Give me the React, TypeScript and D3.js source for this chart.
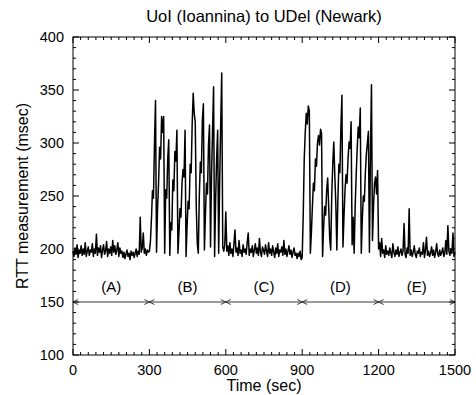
import React from "react";
import * as d3 from "d3";

// RTT samples every 4 seconds, one array per phase
const phaseStarts = [0, 300, 600, 900, 1200];
const phaseA = [
  198, 193, 201, 195, 204, 192, 199, 196, 203, 194,
  200, 195, 206, 193, 198, 202, 194, 199, 197, 205,
  193, 200, 196, 214, 194, 201, 197, 203, 192, 199,
  204, 195, 198, 207, 193, 200, 196, 202, 194, 208,
  197, 203, 195, 199, 206, 193, 201, 196, 198, 192,
  197, 191, 195, 199, 193, 196, 190, 198, 194, 197,
  192, 196, 200, 193, 198, 195, 230, 197, 201, 215,
  196, 200, 194, 199, 197,
];
const phaseB = [
  198, 207, 228, 255, 248, 300, 340, 197,
  238, 262, 296, 285, 325, 310, 325, 196,
  256, 248, 285, 303, 194,
  225, 218, 265, 255, 292, 283, 312, 196,
  215, 238, 230, 262, 275, 268, 312, 193,
  222, 245, 238, 280, 272, 318, 347, 328, 320, 240, 205, 196,
  250, 282, 272, 322, 337, 199,
  232, 262, 252, 298, 317, 202,
  270, 312, 353, 193,
  245, 285, 312, 196,
  265, 318, 366, 202, 198, 204,
];
const phaseC = [
  235, 198, 203, 194, 206, 196, 200, 193, 205, 218,
  197, 201, 194, 208, 196, 199, 193, 204, 197, 200,
  195, 206, 215, 194, 200, 197, 203, 193, 199, 205,
  196, 201, 194, 210, 197, 193, 202, 199, 195, 204,
  198, 193, 206, 196, 200, 194, 203, 197, 192, 201,
  196, 205, 193, 199, 197, 202, 194, 208, 195, 200,
  193, 198, 203, 195, 199, 192, 197, 201, 194, 196,
  191, 196, 193, 198, 190,
];
const phaseD = [
  192, 232, 285, 310, 328, 318, 335, 330, 196,
  215, 240, 262, 255, 285, 278, 300, 307, 298, 313, 309, 193,
  220, 240, 232, 255, 267, 240, 210, 199,
  250, 280, 301, 270, 243, 199,
  245, 280, 272, 315, 345, 202,
  230, 255, 270, 262, 285, 301, 295, 320, 204,
  230, 196, 240, 270, 295, 315, 305, 333, 196,
  228, 250, 245, 272, 290, 300, 311, 197,
  290, 355, 208,
  240, 262, 268, 252, 274,
];
const phaseE = [
  200, 206, 193, 210, 196, 199, 192, 203, 195, 198,
  194, 201, 196, 192, 205, 197, 193, 199, 195, 202,
  193, 197, 200, 194, 198, 224, 195, 192, 201, 196,
  238, 194, 199, 193, 197, 203, 195, 192, 198, 196,
  201, 193, 197, 195, 206, 192, 199, 211, 194, 198,
  193, 196, 202, 194, 199, 192, 197, 205, 195, 193,
  199, 194, 197, 201, 193, 196, 208, 195, 222, 198,
  194, 200, 196, 215, 193, 197,
];
const phaseLabels = ["(A)", "(B)", "(C)", "(D)", "(E)"];
const xTicks = [0, 300, 600, 900, 1200, 1500];
const yTicks = [100, 150, 200, 250, 300, 350, 400];
const markerLevel = 150;

const W = 476;
const H = 395;
const left = 73;
const right = 455;
const top = 37;
const bottom = 355;
const FONT = "Liberation Sans, Arial, Helvetica, sans-serif";

export default function App() {
  const x = d3.scaleLinear().domain([0, 1500]).range([left, right]);
  const y = d3.scaleLinear().domain([100, 400]).range([bottom, top]);

  const phases = [phaseA, phaseB, phaseC, phaseD, phaseE];
  const pts: [number, number][] = [];
  phases.forEach((arr, k) => {
    arr.forEach((v, i) => pts.push([phaseStarts[k] + i * 4, v]));
  });
  const line = d3
    .line<[number, number]>()
    .x((d) => x(d[0]))
    .y((d) => y(d[1]));

  const xMinor = d3.range(0, 1501, 30);
  const yMinor = d3.range(100, 401, 10);
  const majL = 6;
  const minL = 3;

  const ticks: JSX.Element[] = [];
  xMinor.forEach((t) => {
    const L = t % 300 === 0 ? majL : minL;
    const px = x(t);
    ticks.push(<line key={"xb" + t} x1={px} x2={px} y1={bottom} y2={bottom - L} />);
    ticks.push(<line key={"xt" + t} x1={px} x2={px} y1={top} y2={top + L} />);
  });
  yMinor.forEach((v) => {
    const L = v % 50 === 0 ? majL : minL;
    const py = y(v);
    ticks.push(<line key={"yl" + v} x1={left} x2={left + L} y1={py} y2={py} />);
    ticks.push(<line key={"yr" + v} x1={right} x2={right - L} y1={py} y2={py} />);
  });

  const ym = y(markerLevel);
  const ah = 5;
  const aw = 2.5;

  return (
    <svg
      width={W}
      height={H}
      style={{ position: "absolute", left: 0, top: 0, background: "#fff" }}
      fontFamily={FONT}
    >
      <rect x={0} y={0} width={W} height={H} fill="#fff" />
      <text x={(left + right) / 2} y={22} textAnchor="middle" fontSize={16.5}>
        UoI (Ioannina) to UDel (Newark)
      </text>
      <path d={line(pts) || ""} fill="none" stroke="#000" strokeWidth={1.5} strokeLinejoin="round" />
      {phaseStarts.map((s, k) => {
        const x0 = x(s);
        const x1 = x(s + 300);
        return (
          <g key={"ph" + k} stroke="#222" strokeWidth={0.9} fill="none">
            <line x1={x0} x2={x1} y1={ym} y2={ym} />
            <path d={`M${x0 + ah},${ym - aw}L${x0},${ym}L${x0 + ah},${ym + aw}`} />
            <path d={`M${x1 - ah},${ym - aw}L${x1},${ym}L${x1 - ah},${ym + aw}`} />
          </g>
        );
      })}
      {phaseLabels.map((l, k) => (
        <text key={l} x={x(phaseStarts[k] + 150)} y={292} textAnchor="middle" fontSize={15}>
          {l}
        </text>
      ))}
      <g stroke="#000" strokeWidth={1}>{ticks}</g>
      <rect x={left} y={top} width={right - left} height={bottom - top} fill="none" stroke="#000" strokeWidth={1} />
      {yTicks.map((v) => (
        <text key={"yl" + v} x={left - 9} y={y(v) + 5} textAnchor="end" fontSize={14.5}>
          {v}
        </text>
      ))}
      {xTicks.map((t) => (
        <text key={"xl" + t} x={x(t)} y={375} textAnchor="middle" fontSize={14.5}>
          {t}
        </text>
      ))}
      <text x={(left + right) / 2} y={391} textAnchor="middle" fontSize={16}>
        Time (sec)
      </text>
      <text
        transform={`translate(28,${(top + bottom) / 2}) rotate(-90)`}
        textAnchor="middle"
        fontSize={16}
      >
        RTT measurement (msec)
      </text>
    </svg>
  );
}
